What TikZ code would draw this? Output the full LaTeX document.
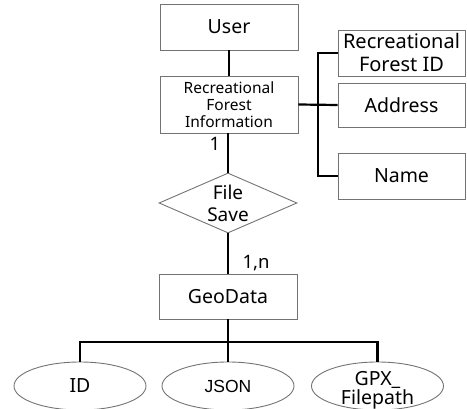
\documentclass[tikz,border=0pt]{standalone}
\usepackage{fontspec}
\setmainfont{Noto Sans}
\newfontfamily\jsonfont{Liberation Sans}
\usetikzlibrary{shapes.geometric}
\begin{document}
\begin{tikzpicture}[x=1pt,y=-1pt,
  ent/.style={draw=gray!90!black, line width=0.9pt, rectangle, inner sep=0pt, align=center, text=black},
  attr/.style={draw=gray!90!black, line width=0.9pt, ellipse, inner sep=0pt, minimum width=132pt, minimum height=48pt, align=center, text=black},
  rel/.style={draw=gray!90!black, line width=0.9pt, diamond, inner sep=0pt, minimum width=138pt, minimum height=60pt},
  conn/.style={line width=2.2pt, black},
  big/.style={font=\fontsize{19.5}{23}\selectfont},
  small/.style={font=\fontsize{15.5}{17}\selectfont},
  lbl/.style={font=\fontsize{18.5}{22}\selectfont, text=black, inner sep=0pt}]
\useasboundingbox (0,0) rectangle (467,409);
\node[ent, big, minimum width=138pt, minimum height=46pt] (user) at (229,27) {User};
\node[ent, small, minimum width=138pt, minimum height=57pt] (rfi) at (229,104.5) {Recreational\\Forest\\Information};
\node[ent, font=\fontsize{20}{23}\selectfont, minimum width=127pt, minimum height=46pt] (rfid) at (401.5,53) {Recreational\\Forest ID};
\node[ent, big, minimum width=127pt, minimum height=44pt] (addr) at (401.5,105) {Address};
\node[ent, big, minimum width=127pt, minimum height=46pt] (name) at (401.5,176) {Name};
\node[rel] (fs) at (228,203) {};
\node[align=center, text=black, font=\fontsize{19}{22}\selectfont] (fstext) at (fs.center) {File\\Save};
\node[ent, big, minimum width=138pt, minimum height=45pt] (geo) at (228,296.5) {GeoData};
\node[attr, big] (id) at (80,386) {ID};
\node[attr, font=\jsonfont\fontsize{17.5}{20}\selectfont] (json) at (228,386) {JSON};
\node[attr] (gpx) at (377.5,386) {};
\node[align=center, text=black, font=\fontsize{19.5}{19}\selectfont] (gpxtext) at (377.5,390) {GPX\_\\Filepath};
\coordinate (bus) at (318,105);
\coordinate (gbus) at (228,342);
% connectors
\draw[conn] (user.south) -- (rfi.north);
\draw[conn] (rfi.east) -- (addr.west);
\draw[conn] (rfid.west) -- (rfid.west -| bus) -- (name.west -| bus) -- (name.west);
\draw[conn] (rfi.south -| fs.north) -- (fs.north);
\draw[conn] (fs.south) -- (geo.north);
\draw[conn] (geo.south) -- (gbus);
\draw[conn] (id.north) -- (id.north |- gbus) -- (gpx.north |- gbus) -- (gpx.north);
\draw[conn] (json.north) -- (json.north |- gbus);
\node[lbl] (one) at (215,144) {1};
\node[lbl] (onen) at (256,263) {1,n};
\end{tikzpicture}
\end{document}
